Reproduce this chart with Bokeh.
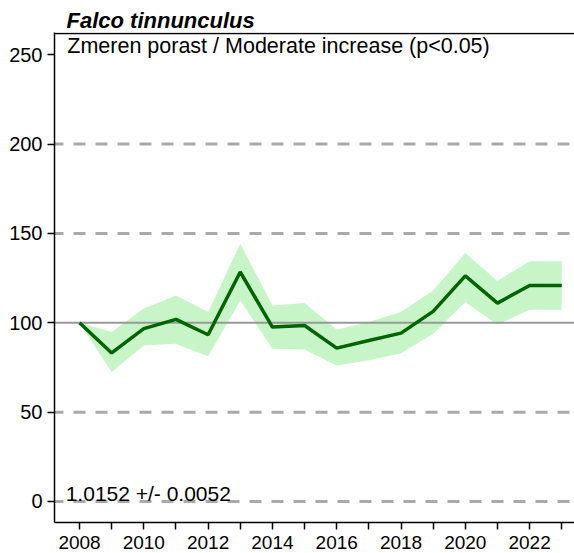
from bokeh.plotting import figure
from bokeh.models import Range1d, FixedTicker, Span, Label
from bokeh.embed import file_html
from bokeh.resources import INLINE

# ---- data ----
years = list(range(2008, 2024))
index = [100, 83.1, 96.7, 101.9, 93.3, 128.4, 97.6, 98.5, 85.8, 90.1, 94.2, 106.4, 126.2, 111.0, 120.9, 120.9]
upper = [100, 94.8, 108.0, 115.3, 106.0, 144.3, 109.7, 111.0, 96.3, 100.4, 106.0, 118.1, 139.0, 123.4, 134.4, 134.4]
lower = [100, 72.4, 87.3, 88.3, 81.2, 112.5, 85.5, 85.1, 76.1, 79.0, 83.0, 93.9, 111.6, 98.9, 107.3, 107.3]
y_ticks = [0, 50, 100, 150, 200, 250]
dashed_levels = [0, 50, 150, 200]
baseline_level = 100
title_text = "Falco tinnunculus"
subtitle_text = "Zmeren porast / Moderate increase (p<0.05)"
stat_text = "1.0152 +/- 0.0052"

FONT = "Liberation Sans"

x_range = Range1d(2007.222, 2023.396)
y_range = Range1d(-11.75, 262.4)
p = figure(width=574, height=553, output_backend="svg", toolbar_location=None,
           x_range=x_range, y_range=y_range,
           min_border_left=54, min_border_right=0, min_border_top=32, min_border_bottom=31)
p.outline_line_color = None
p.xgrid.visible = False
p.ygrid.visible = False
p.background_fill_color = "white"
p.border_fill_color = "white"

# title
p.title.text = title_text
p.title.text_font = FONT
p.title.text_font_size = "22px"
p.title.text_font_style = "bold italic"
p.title.text_color = "black"
p.title.align = "left"
p.title.offset = 12
p.title.standoff = 0
p.title.vertical_align = "bottom"

# confidence band
p.varea(x=years, y1=lower, y2=upper, fill_color="#c8f5c8", fill_alpha=1.0, level="underlay")

# reference lines
for lv in dashed_levels:
    p.add_layout(Span(location=lv, dimension="width", line_color="#aaaaaa", line_width=3,
                      line_dash="12 10", line_dash_offset=3, level="underlay"))
p.add_layout(Span(location=baseline_level, dimension="width", line_color="#999999", line_width=2,
                  level="underlay"))

# top border of the plot box (kept just inside the frame so it is not clipped)
px_per_unit = 490 / (y_range.end - y_range.start)
top_y = y_range.end - 1.0 / px_per_unit
p.segment(x0=[x_range.start], x1=[x_range.end], y0=[top_y], y1=[top_y],
          line_color="black", line_width=1.6)

# index line
p.line(years, index, line_color="#006400", line_width=3.5)

# axes
xa = p.below[0]
xa.ticker = FixedTicker(ticks=years)
xa.major_label_overrides = {y: ("" if y % 2 else str(y)) for y in years}
xa.minor_tick_line_color = None
xa.major_tick_in = 0
xa.major_tick_out = 7
xa.major_label_standoff = 6
xa.axis_line_width = 1.5
xa.major_tick_line_width = 1.5
xa.axis_line_color = "black"
xa.major_tick_line_color = "black"
xa.major_label_text_font = FONT
xa.major_label_text_font_size = "19px"
xa.major_label_text_color = "black"

ya = p.left[0]
ya.ticker = FixedTicker(ticks=y_ticks)
ya.minor_tick_line_color = None
ya.major_tick_in = 0
ya.major_tick_out = 7
ya.major_label_standoff = 5
ya.axis_line_width = 1.5
ya.major_tick_line_width = 1.5
ya.axis_line_color = "black"
ya.major_tick_line_color = "black"
ya.major_label_text_font = FONT
ya.major_label_text_font_size = "20px"
ya.major_label_text_color = "black"

# texts
p.add_layout(Label(x=2007.62, y=255.0, text=subtitle_text, text_font=FONT, text_font_size="21.5px",
                   text_color="black", text_baseline="alphabetic"))
p.add_layout(Label(x=2007.57, y=4.5, text=stat_text, text_font=FONT, text_font_size="21px",
                   text_color="black", text_baseline="alphabetic"))

open("out.html", "w").write(file_html(p, INLINE))
